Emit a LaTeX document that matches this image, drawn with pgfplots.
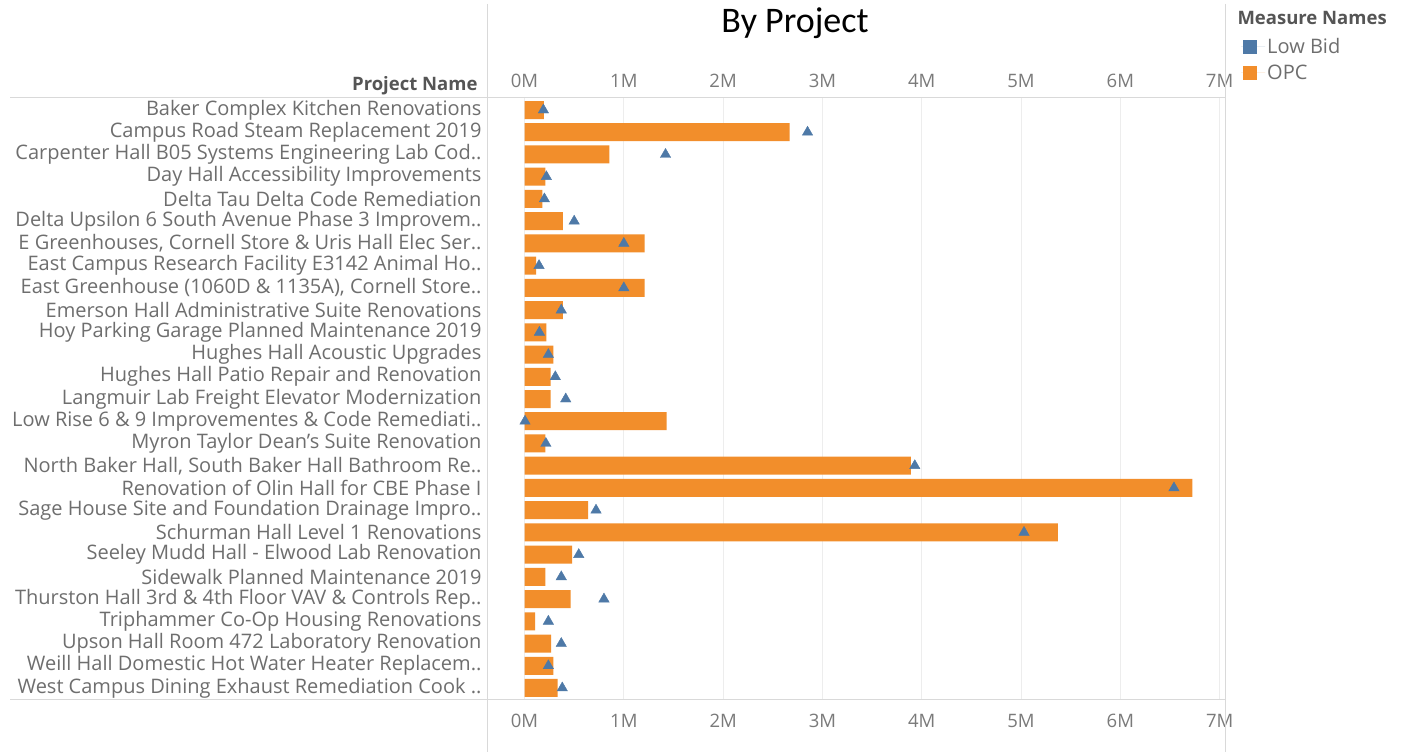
\documentclass[border=0pt]{standalone}
\usepackage{pgfplots}
\pgfplotsset{compat=1.18}
\usepackage{pgfplotstable}
\usepackage{fontspec}
\setmainfont{Open Sans}
\newfontfamily\carlito{Carlito}
\definecolor{topc}{HTML}{F28E2B}
\definecolor{tblue}{HTML}{4E79A7}
\definecolor{lbl}{HTML}{6E6E6E}
\definecolor{tck}{HTML}{7A7A7A}
\definecolor{hdr}{HTML}{555555}
\definecolor{frame}{HTML}{D9D9D9}

\pgfplotstableread{
idx opc low
0 0.196 0.19
1 2.67 2.85
2 0.854 1.42
3 0.21 0.22
4 0.18 0.20
5 0.385 0.50
6 1.21 1.00
7 0.116 0.146
8 1.21 1.00
9 0.385 0.37
10 0.22 0.15
11 0.29 0.24
12 0.264 0.31
13 0.264 0.415
14 1.43 0.005
15 0.21 0.215
16 3.89 3.93
17 6.725 6.54
18 0.64 0.72
19 5.37 5.03
20 0.48 0.546
21 0.21 0.37
22 0.465 0.80
23 0.106 0.24
24 0.267 0.37
25 0.29 0.24
26 0.334 0.38
}\data

\newcommand{\lblfont}{\fontsize{20}{22}\selectfont}
\newcommand{\tckfont}{\fontsize{18.5}{21}\selectfont}

\begin{document}
\begin{tikzpicture}
\useasboundingbox (0pt,0pt) rectangle (1428pt,752pt);
\fill[white] (0pt,0pt) rectangle (1428pt,752pt);
\begin{axis}[
  at={(487pt,52pt)}, anchor=south west,
  scale only axis, width=738pt, height=602pt,
  xmin=-0.378, xmax=7.054,
  ymin=-0.54, ymax=26.54, y dir=reverse,
  axis line style={draw=none},
  xtick={0,1,2,3,4,5,6,7},
  xticklabels={0M,1M,2M,3M,4M,5M,6M,7M},
  xticklabel pos=upper,
  xmajorgrids, major grid style={color=black!7, line width=0.8pt},
  major tick length=0pt,
  ytick={0,...,26},
  yticklabels={
    Baker Complex Kitchen Renovations,
    Campus Road Steam Replacement 2019,
    Carpenter Hall B05 Systems Engineering Lab Cod..,
    Day Hall Accessibility Improvements,
    Delta Tau Delta Code Remediation,
    Delta Upsilon 6 South Avenue Phase 3 Improvem..,
    {E Greenhouses, Cornell Store \& Uris Hall Elec Ser..},
    East Campus Research Facility E3142 Animal Ho..,
    {East Greenhouse (1060D \& 1135A), Cornell Store..},
    Emerson Hall Administrative Suite Renovations,
    Hoy Parking Garage Planned Maintenance 2019,
    Hughes Hall Acoustic Upgrades,
    Hughes Hall Patio Repair and Renovation,
    Langmuir Lab Freight Elevator Modernization,
    Low Rise 6 \& 9 Improvementes \& Code Remediati..,
    Myron Taylor Dean’s Suite Renovation,
    {North Baker Hall, South Baker Hall Bathroom Re..},
    Renovation of Olin Hall for CBE Phase I,
    Sage House Site and Foundation Drainage Impro..,
    Schurman Hall Level 1 Renovations,
    Seeley Mudd Hall - Elwood Lab Renovation,
    Sidewalk Planned Maintenance 2019,
    Thurston Hall 3rd \& 4th Floor VAV \& Controls Rep..,
    Triphammer Co-Op Housing Renovations,
    Upson Hall Room 472 Laboratory Renovation,
    Weill Hall Domestic Hot Water Heater Replacem..,
    West Campus Dining Exhaust Remediation Cook ..},
  yticklabel style={font=\lblfont, text=lbl, anchor=east, xshift=-2pt},
  xticklabel style={font=\tckfont, text=tck, yshift=7pt},
  legend style={at={(1,1)}, anchor=north west, xshift=16pt, yshift=62pt,
    draw=none, fill=none, inner sep=0pt, row sep=6pt,
    font=\lblfont, text=lbl},
  legend cell align=left,
]
\addlegendimage{fill=tblue, draw=none, legend image code/.code={\fill[tblue] (2pt,-7pt) rectangle (16pt,7pt); \path (0pt,0pt) -- (24pt,0pt);}}
\addlegendentry{Low Bid}
\addlegendimage{fill=topc, draw=none, legend image code/.code={\fill[topc] (2pt,-7pt) rectangle (16pt,7pt); \path (0pt,0pt) -- (24pt,0pt);}}
\addlegendentry{OPC}
\addplot[xbar, bar width=18pt, fill=topc, draw=none, forget plot] table[x=opc, y=idx] {\data};
\addplot[only marks, mark=triangle*, mark size=6pt, color=tblue, forget plot] table[x=low, y=idx] {\data};
\end{axis}
\begin{axis}[
  at={(487pt,52pt)}, anchor=south west,
  scale only axis, width=738pt, height=602pt,
  xmin=-0.378, xmax=7.054,
  ymin=0, ymax=1,
  axis line style={draw=none},
  xtick={0,1,2,3,4,5,6,7},
  xticklabels={0M,1M,2M,3M,4M,5M,6M,7M},
  xticklabel pos=lower,
  major tick length=0pt,
  ytick=\empty,
  xticklabel style={font=\tckfont, text=tck, yshift=-11pt},
]
\end{axis}
% frame lines (Tableau pane borders)
\draw[frame, line width=1pt] (10pt,654pt) -- (1225pt,654pt);
\draw[frame, line width=1pt] (10pt,52pt) -- (1225pt,52pt);
\draw[frame, line width=1pt] (487pt,748pt) -- (487pt,0pt);
\draw[frame, line width=1pt] (1225pt,748pt) -- (1225pt,0pt);
% titles
\node[font=\carlito\fontsize{36}{40}\selectfont, text=black] at (795pt,729pt) {By Project};
\node[anchor=east, font=\bfseries\tckfont, text=hdr] at (481pt,666pt) {Project Name};
\node[anchor=west, font=\bfseries\tckfont, text=hdr] at (1234pt,734pt) {Measure Names};
\end{tikzpicture}
\end{document}
